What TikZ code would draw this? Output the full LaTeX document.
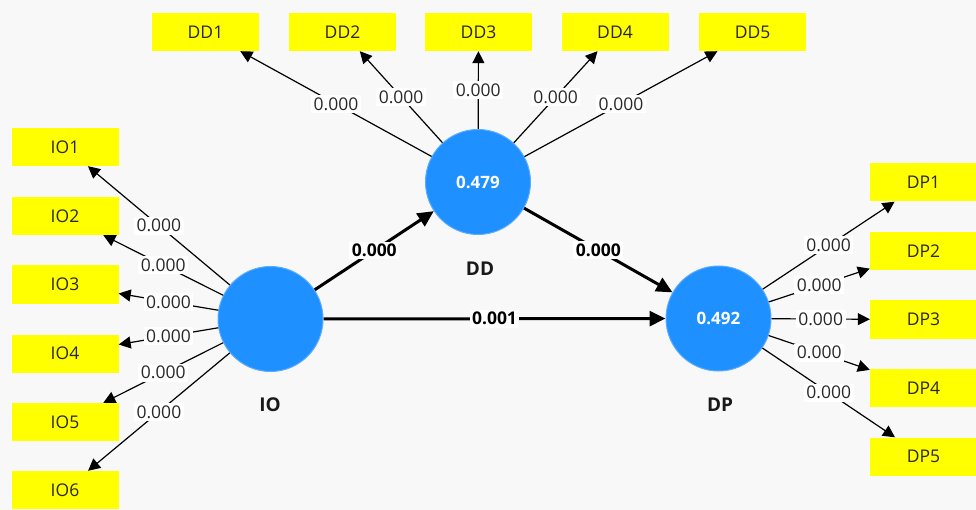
\documentclass[tikz,border=0pt]{standalone}
\usepackage{fontspec}
\setmainfont{Open Sans}
\usetikzlibrary{arrows.meta}
\definecolor{bgc}{RGB}{248,248,248}
\definecolor{lvblue}{RGB}{30,144,255}
\definecolor{lvring}{RGB}{90,172,255}
\definecolor{itemyellow}{RGB}{255,255,0}
\definecolor{txt}{RGB}{40,40,40}
\tikzset{
  latent/.style={circle, fill=lvblue, draw=lvring, line width=1pt, minimum size=105pt,
    inner sep=0pt, text=white, font=\fontsize{17}{20}\selectfont\bfseries},
  indicator/.style={rectangle, fill=itemyellow, minimum width=107pt, minimum height=38pt,
    inner sep=0pt, text=txt, font=\fontsize{17.5}{20}\selectfont},
  lvname/.style={font=\fontsize{19}{22}\selectfont\bfseries, text=black!90},
  loading/.style={draw=black, line width=1.2pt, -{Triangle[length=12pt,width=12pt]}},
  pathc/.style={draw=black, line width=3pt, -{Triangle[length=16pt,width=15pt]}},
  pval/.style={fill=white, inner sep=2.5pt, text=txt, font=\fontsize{17.5}{20}\selectfont},
  bpval/.style={fill=white, inner sep=2.5pt, text=black, font=\fontsize{17.5}{20}\selectfont\bfseries}
}
\begin{document}
\begin{tikzpicture}[x=1pt, y=-1pt]
  \fill[bgc] (0,0) rectangle (976,510);
  \useasboundingbox (0,0) rectangle (976,510);

  % latent variables
  \node[latent] (IO) at (270.5,319) {};
  \node[latent] (DD) at (478,182) {0.479};
  \node[latent] (DP) at (718.5,318.5) {0.492};
  \node[lvname] (IOn) at (270,405) {IO};
  \node[lvname] (DDn) at (480,269) {DD};
  \node[lvname] (DPn) at (720,405) {DP};

  % indicators of DD
  \node[indicator] (DD1) at (205.5,32) {DD1};
  \node[indicator] (DD2) at (342.5,32) {DD2};
  \node[indicator] (DD3) at (478.5,32) {DD3};
  \node[indicator] (DD4) at (615,32) {DD4};
  \node[indicator] (DD5) at (752.5,32) {DD5};

  % indicators of IO
  \node[indicator] (IO1) at (65,147) {IO1};
  \node[indicator] (IO2) at (65,216) {IO2};
  \node[indicator] (IO3) at (65,284.5) {IO3};
  \node[indicator] (IO4) at (65,353.5) {IO4};
  \node[indicator] (IO5) at (65,422) {IO5};
  \node[indicator] (IO6) at (65,490) {IO6};

  % indicators of DP
  \node[indicator] (DP1) at (923.5,182.5) {DP1};
  \node[indicator] (DP2) at (923.5,251) {DP2};
  \node[indicator] (DP3) at (923.5,319.5) {DP3};
  \node[indicator] (DP4) at (923.5,388) {DP4};
  \node[indicator] (DP5) at (923.5,456.5) {DP5};

  % outer loadings
  \foreach \i in {1,...,5} {
    \draw[loading] (DD) -- node[pval] {0.000} (DD\i);
    \draw[loading] (DP) -- node[pval] {0.000} (DP\i);
  }
  \foreach \i in {1,...,6} {
    \draw[loading] (IO) -- node[pval] {0.000} (IO\i);
  }

  % structural paths
  \draw[pathc] (IO) -- node[bpval] {0.000} (DD);
  \draw[pathc] (DD) -- node[bpval] {0.000} (DP);
  \draw[pathc] (IO) -- node[bpval] {0.001} (DP);
\end{tikzpicture}
\end{document}
